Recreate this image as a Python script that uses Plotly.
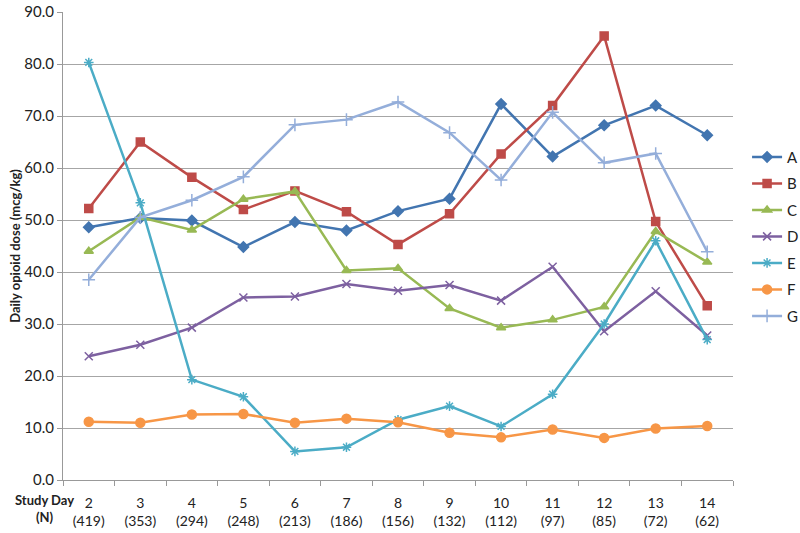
import plotly.graph_objects as go

days = ["2", "3", "4", "5", "6", "7", "8", "9", "10", "11", "12", "13", "14"]
n_counts = ["419", "353", "294", "248", "213", "186", "156", "132", "112", "97", "85", "72", "62"]

A = [48.6, 50.4, 49.9, 44.8, 49.6, 48.0, 51.7, 54.1, 72.3, 62.2, 68.2, 72.0, 66.3]
B = [52.2, 65.0, 58.2, 52.0, 55.6, 51.6, 45.3, 51.2, 62.7, 72.0, 85.4, 49.7, 33.5]
C = [44.0, 50.5, 48.1, 54.0, 55.5, 40.3, 40.7, 33.0, 29.3, 30.8, 33.3, 47.8, 41.9]
D = [23.8, 26.0, 29.3, 35.1, 35.3, 37.7, 36.4, 37.5, 34.5, 41.0, 28.6, 36.3, 27.8]
E = [80.3, 53.3, 19.3, 16.0, 5.5, 6.3, 11.6, 14.2, 10.3, 16.5, 30.0, 46.0, 27.0]
F = [11.2, 11.0, 12.6, 12.7, 11.0, 11.8, 11.1, 9.1, 8.2, 9.7, 8.1, 9.9, 10.4]
G = [38.5, 50.5, 53.8, 58.3, 68.3, 69.3, 72.7, 66.8, 57.7, 70.7, 61.0, 62.8, 43.9]

series = [
    ("A", A, "#4275B0", "diamond", 8),
    ("B", B, "#BE4B48", "square", 8),
    ("C", C, "#98B954", "triangle-up", 8),
    ("D", D, "#7D60A0", "x-thin", 8),
    ("E", E, "#4BACC6", "asterisk", 8),
    ("F", F, "#F79646", "circle", 9),
    ("G", G, "#94AEDA", "cross-thin", 9),
]

xlabels = [f"{d}<br>({n})" for d, n in zip(days, n_counts)]

fig = go.Figure()
for name, vals, col, sym, sz in series:
    fig.add_trace(go.Scatter(
        x=xlabels, y=vals, name=name, mode="lines+markers",
        line=dict(color=col, width=2.5),
        marker=dict(symbol=sym, size=sz, color=col,
                    line=dict(color=col, width=1.5)),
        legendgroup=name,
    ))

fig.update_layout(
    width=800, height=533,
    margin=dict(l=63, r=67, t=12, b=53, autoexpand=False),
    plot_bgcolor="white", paper_bgcolor="white",
    font=dict(family="Lato, Open Sans, sans-serif", size=14, color="#222"),
    showlegend=True,
    legend=dict(x=1.021, y=0.52, xanchor="left", yanchor="middle",
                tracegroupgap=4, font=dict(size=15), itemwidth=30,
                bgcolor="rgba(0,0,0,0)"),
    xaxis=dict(
        type="category", showgrid=False, showline=True, linecolor="#999",
        ticks="outside", tickson="boundaries", tickcolor="#999", ticklen=5,
        tickfont=dict(size=14), range=[-0.5, 12.5], automargin=False,
        ticklabelstandoff=10,
    ),
    yaxis=dict(
        range=[0, 90], dtick=10, tickformat=".1f",
        showgrid=True, gridcolor="#a6a6a6", gridwidth=1,
        showline=True, linecolor="#999", ticks="outside", tickcolor="#999",
        ticklen=5, zeroline=False, tickfont=dict(size=15), automargin=False,
        title=dict(text="<b>Daily opioid dose (mcg/kg)</b>", font=dict(size=13), standoff=0),
    ),
)

fig.add_annotation(
    text="<b>Study Day<br>(N)</b>", xref="paper", yref="paper",
    x=0.019, y=-0.022, xanchor="right", yanchor="top", showarrow=False,
    align="center", font=dict(size=13),
)

fig.write_html("out.html", post_script="document.body.style.margin='0';",
               config={"displayModeBar": False})
